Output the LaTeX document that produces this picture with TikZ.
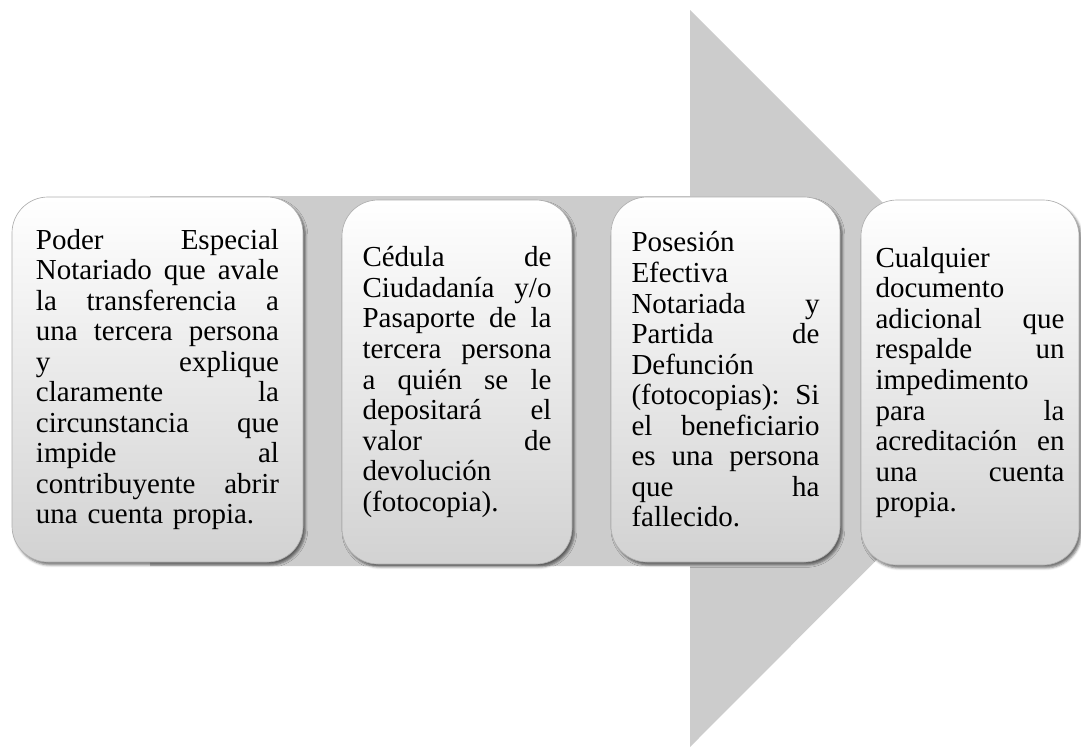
\documentclass[tikz,border=0pt]{standalone}
\usepackage{fontspec}
\setmainfont{Liberation Serif}
\usetikzlibrary{shadows.blur}
\definecolor{arrowgray}{RGB}{204,204,204}
\definecolor{boxbottom}{RGB}{210,210,210}
\definecolor{boxrim}{RGB}{175,175,175}
\newcommand{\jl}[1]{\leavevmode\hbox to\hsize{\spaceskip=.25em plus 1fil\xspaceskip=.25em plus 1fil\relax #1}}
\tikzset{every picture/.style={line width=0.75pt}}
\tikzset{docbox/.style={rounded corners=27pt, top color=white, bottom color=boxbottom, draw=boxrim, line width=0.5pt, blur shadow={shadow xshift=1.8pt, shadow yshift=-2.2pt, shadow opacity=55}, align=left, inner sep=0pt, font=\fontsize{21.75}{22.9}\selectfont}}

\begin{document}
\begin{tikzpicture}[x=0.75pt,y=0.75pt,yscale=-1,xscale=1]
\useasboundingbox (0,0) rectangle (1081,747);

%Shape: Right Arrow [id:flecha]
\fill [arrowgray] (150,196) -- (690,196) -- (690,10) -- (1058,378) -- (690,747) -- (690,566) -- (150,566) -- cycle ;

%Rounded Rect [id:poder]
\node (poder) [docbox, minimum width=218.25pt, minimum height=273.75pt, text width=182.25pt] at (157.5,379.5) {\jl{Poder Especial}\\ \jl{Notariado que avale}\\ \jl{la transferencia a}\\ \jl{una tercera persona}\\ \jl{y explique}\\ \jl{claramente la}\\ \jl{circunstancia que}\\ \jl{impide al}\\ \jl{contribuyente abrir}\\ una cuenta propia.};
%Rounded Rect [id:cedula]
\node (cedula) [docbox, minimum width=172.5pt, minimum height=273pt, text width=141.75pt] at (457,382) {\jl{Cédula de}\\ \jl{Ciudadanía y/o}\\ \jl{Pasaporte de la}\\ \jl{tercera persona}\\ \jl{a quién se le}\\ \jl{depositará el}\\ \jl{valor de}\\ devolución\\ (fotocopia).};
%Rounded Rect [id:posesion]
\node (posesion) [docbox, minimum width=171.75pt, minimum height=273.75pt, text width=141pt] at (725.5,379.5) {Posesión\\ Efectiva\\ \jl{Notariada y}\\ \jl{Partida de}\\ Defunción\\ \jl{(fotocopias): Si}\\ \jl{el beneficiario}\\ \jl{es una persona}\\ \jl{que ha}\\ fallecido.};
%Rounded Rect [id:cualquier]
\node (cualquier) [docbox, minimum width=163.5pt, minimum height=273.75pt, text width=141.75pt] at (970,382.5) {Cualquier\\ documento\\ \jl{adicional que}\\ \jl{respalde un}\\ impedimento\\ \jl{para la}\\ \jl{acreditación en}\\ \jl{una cuenta}\\ propia.};

\end{tikzpicture}
\end{document}
